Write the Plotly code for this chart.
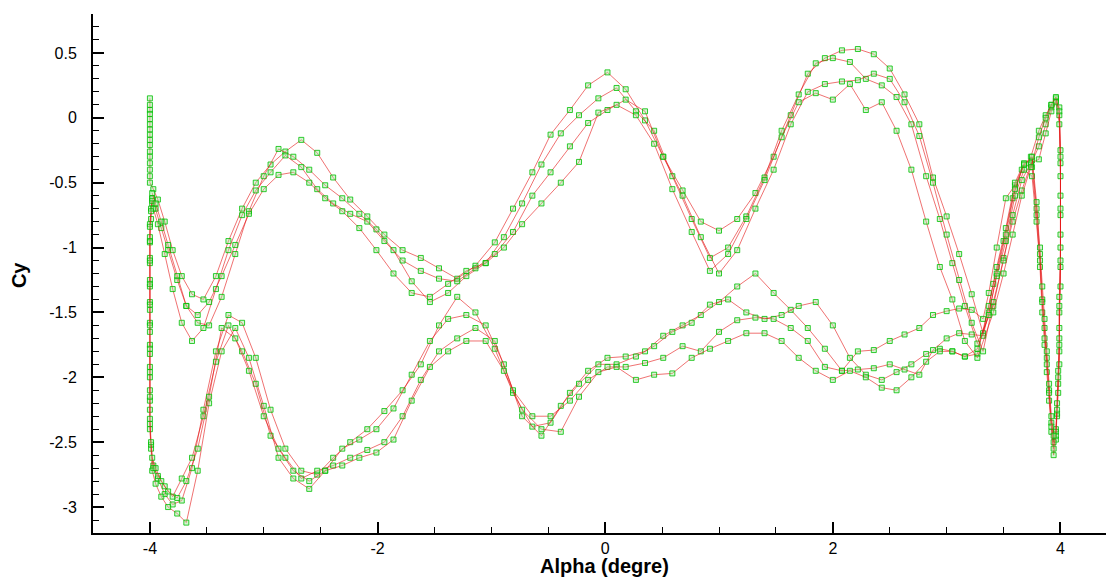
import plotly.graph_objects as go

# ---------------- data ----------------
UA = [-3.97, -3.93, -3.87, -3.80, -3.72, -3.63, -3.53, -3.42, -3.31, -3.19, -3.07, -2.94, -2.81, -2.67,
      -2.53, -2.39, -2.24, -2.09, -1.94, -1.78, -1.62, -1.46, -1.30, -1.14, -0.97, -0.81, -0.64, -0.48,
      -0.31, -0.15, 0.02, 0.18, 0.35, 0.51, 0.68, 0.84, 1.00, 1.16, 1.32, 1.48, 1.63, 1.78, 1.93, 2.08,
      2.22, 2.36, 2.50, 2.63, 2.76, 2.88, 3.00, 3.11, 3.22, 3.32]
UB = [-3.98, -3.95, -3.90, -3.84, -3.76, -3.68, -3.58, -3.48, -3.37, -3.25, -3.13, -3.00, -2.87, -2.74,
      -2.60, -2.46, -2.31, -2.16, -2.01, -1.86, -1.70, -1.54, -1.38, -1.22, -1.05, -0.89, -0.73, -0.56,
      -0.39, -0.23, -0.06, 0.10, 0.27, 0.43, 0.59, 0.76, 0.92, 1.08, 1.24, 1.40, 1.55, 1.70, 1.85, 2.00,
      2.15, 2.29, 2.43, 2.56, 2.69, 2.82, 2.94, 3.05, 3.16, 3.27]

# upper branches (alpha increasing)
up1_cy = [-0.55, -0.63, -0.80, -1.02, -1.22, -1.36, -1.40, -1.22, -0.95, -0.70, -0.50, -0.36, -0.26, -0.17,
          -0.27, -0.46, -0.63, -0.76, -0.90, -1.02, -1.08, -1.16, -1.24, -1.14, -0.96, -0.70, -0.42, -0.13,
          0.06, 0.25, 0.35, 0.22, -0.02, -0.30, -0.56, -0.80, -0.87, -0.78, -0.58, -0.30, 0.02, 0.34, 0.46, 0.52,
          0.53, 0.49, 0.38, 0.18, -0.05, -0.46, -0.76, -1.05, -1.36, -1.66]
up2_cy = [-0.62, -0.70, -0.85, -1.02, -1.25, -1.45, -1.58, -1.60, -1.38, -1.05, -0.72, -0.45, -0.24, -0.30,
          -0.40, -0.52, -0.62, -0.74, -0.86, -1.02, -1.26, -1.42, -1.35, -1.22, -1.12, -0.92, -0.66, -0.36,
          -0.12, 0.02, 0.15, 0.23, 0.05, -0.10, -0.45, -0.78, -1.08, -1.00, -0.76, -0.46, -0.10, 0.18, 0.42, 0.46,
          0.43, 0.30, 0.25, 0.16, -0.05, -0.45, -0.78, -1.12, -1.45, -1.74]
up3_cy = [-0.70, -0.82, -1.05, -1.32, -1.58, -1.72, -1.62, -1.32, -1.02, -0.75, -0.56, -0.42, -0.29, -0.38,
          -0.55, -0.66, -0.74, -0.80, -0.95, -1.10, -1.18, -1.24, -1.26, -1.16, -1.05, -0.88, -0.60, -0.42,
          -0.22, -0.04, 0.06, 0.14, 0.05, -0.30, -0.60, -0.92, -1.20, -1.02, -0.70, -0.40, -0.05, 0.20, 0.26, 0.28,
          0.29, 0.34, 0.30, 0.12, -0.14, -0.50, -0.90, -1.25, -1.58, -1.80]
up4_cy = [-0.58, -0.66, -0.80, -0.98, -1.22, -1.45, -1.52, -1.42, -1.22, -0.98, -0.74, -0.55, -0.44, -0.42,
          -0.50, -0.62, -0.72, -0.85, -1.02, -1.20, -1.35, -1.38, -1.28, -1.18, -1.12, -1.00, -0.82, -0.66,
          -0.50, -0.34, 0.04, 0.10, 0.02, -0.20, -0.55, -0.88, -1.18, -1.05, -0.78, -0.48, -0.15, 0.12, 0.19, 0.14,
          0.26, 0.06, 0.12, -0.10, -0.40, -0.80, -1.15, -1.40, -1.72, -1.85]

# lower branches (listed with alpha increasing, travelled with alpha decreasing)
lo1_cy = [-2.68, -2.78, -2.90, -2.98, -2.95, -2.70, -2.25, -1.80, -1.52, -1.58, -1.85, -2.25, -2.55, -2.72,
          -2.75, -2.62, -2.50, -2.40, -2.26, -2.10, -1.90, -1.60, -1.38, -1.50, -1.78, -2.12, -2.38, -2.35,
          -2.12, -1.95, -1.85, -1.84, -1.80, -1.68, -1.60, -1.52, -1.42, -1.30, -1.20, -1.35, -1.48, -1.62, -1.78, -1.95,
          -1.80, -1.79, -1.72, -1.67, -1.62, -1.52, -1.49, -1.47, -1.48, -1.55]
lo2_cy = [-2.72, -2.82, -2.92, -3.00, -3.05, -3.12, -2.72, -2.20, -1.80, -1.62, -1.85, -2.22, -2.62, -2.78,
          -2.86, -2.72, -2.55, -2.48, -2.40, -2.24, -1.98, -1.72, -1.55, -1.52, -1.60, -1.90, -2.30, -2.45,
          -2.22, -2.05, -1.90, -1.90, -1.84, -1.76, -1.65, -1.58, -1.44, -1.40, -1.50, -1.55, -1.52, -1.45, -1.42, -1.60,
          -1.85, -1.98, -2.02, -1.96, -1.90, -1.82, -1.78, -1.80, -1.84, -1.82]
lo3_cy = [-2.70, -2.76, -2.84, -2.92, -2.78, -2.62, -2.30, -1.88, -1.60, -1.80, -2.05, -2.45, -2.62, -2.78,
          -2.72, -2.68, -2.62, -2.56, -2.50, -2.30, -2.02, -1.80, -1.70, -1.62, -1.72, -2.10, -2.30, -2.30,
          -2.18, -2.02, -1.92, -1.92, -1.89, -1.85, -1.76, -1.80, -1.65, -1.56, -1.54, -1.55, -1.62, -1.72, -1.92, -1.95,
          -1.94, -1.93, -1.90, -1.94, -1.98, -1.79, -1.70, -1.66, -1.67, -1.68]
lo4_cy = [-2.62, -2.70, -2.80, -2.88, -2.93, -2.80, -2.55, -2.15, -1.62, -1.70, -1.95, -2.30, -2.55, -2.72,
          -2.80, -2.72, -2.68, -2.62, -2.58, -2.48, -2.18, -1.92, -1.80, -1.72, -1.72, -1.95, -2.25, -2.40,
          -2.42, -2.15, -1.96, -1.92, -2.02, -1.98, -1.97, -1.85, -1.78, -1.72, -1.66, -1.66, -1.72, -1.85, -1.95, -2.02,
          -1.95, -2.00, -2.08, -2.10, -2.00, -1.88, -1.80, -1.80, -1.84, -1.78]

# turn at alpha = 4 (rise, stall spike, recovery) for each cycle
r_alpha = [3.41, 3.50, 3.58, 3.66, 3.74, 3.81, 3.87, 3.92, 3.96,
           3.99, 4.00, 4.00, 4.00, 3.99, 3.99, 3.98, 3.97, 3.96,
           3.94, 3.92, 3.90, 3.88, 3.86, 3.84, 3.82, 3.79, 3.75,
           3.68, 3.60, 3.52, 3.44, 3.37]
r1_cy = [-1.28, -0.95, -0.62, -0.40, -0.30, -0.10, 0.02, 0.10, 0.15,
         0.02, -0.35, -0.75, -1.15, -1.50, -1.80, -2.05, -2.30, -2.48,
         -2.60, -2.42, -2.18, -1.96, -1.75, -1.50, -1.15, -0.75, -0.38,
         -0.36, -0.52, -0.62, -1.00, -1.35]
r2_cy = [-1.45, -1.08, -0.80, -0.56, -0.36, -0.22, -0.05, 0.08, 0.13,
         -0.05, -0.45, -0.90, -1.30, -1.62, -1.90, -2.12, -2.28, -2.40,
         -2.50, -2.35, -2.10, -1.85, -1.62, -1.40, -1.05, -0.70, -0.33,
         -0.35, -0.50, -0.85, -1.15, -1.45]
r3_cy = [-1.42, -1.10, -0.75, -0.48, -0.35, -0.32, -0.12, 0.05, 0.12,
         0.08, -0.25, -0.60, -1.00, -1.38, -1.70, -1.95, -2.20, -2.42,
         -2.55, -2.38, -2.12, -1.90, -1.70, -1.42, -1.10, -0.80, -0.45,
         -0.40, -0.60, -0.95, -1.22, -1.50]
r4_cy = [-1.50, -1.20, -0.90, -0.60, -0.38, -0.15, 0.00, 0.10, 0.16,
         0.05, -0.30, -0.70, -1.10, -1.45, -1.75, -2.00, -2.25, -2.45,
         -2.45, -2.30, -2.05, -1.80, -1.55, -1.30, -1.00, -0.65, -0.30,
         -0.36, -0.55, -0.90, -1.20, -1.52]

# turn at alpha = -4 (recovery from the lower to the upper branch)
l_alpha = [-3.99, -4.00, -4.00, -4.00, -4.00, -4.00, -4.00, -4.00, -4.00, -4.00, -4.00, -3.99, -3.98]
l1_cy = [-2.55, -2.40, -2.25, -2.10, -1.92, -1.75, -1.58, -1.42, -1.25, -1.08, -0.92, -0.78, -0.66]
l2_cy = [-2.52, -2.36, -2.18, -2.00, -1.82, -1.65, -1.48, -1.30, -1.12, -0.96, -0.82, -0.70, -0.62]
l3_cy = [-2.50, -2.32, -2.15, -1.96, -1.78, -1.60, -1.44, -1.28, -1.10, -0.95, -0.84, -0.72, -0.64]

# start-up transient at alpha = -4
s_alpha = [-4.00] * 16
s_cy = [0.15, 0.10, 0.06, 0.03, -0.01, -0.05, -0.09, -0.13, -0.17, -0.21, -0.26, -0.30, -0.35, -0.40, -0.45, -0.50]

x_ticks = [-4, -2, 0, 2, 4]
x_labels = ["-4", "-2", "0", "2", "4"]
y_ticks = [0.5, 0, -0.5, -1, -1.5, -2, -2.5, -3]
y_labels = ["0.5", "0", "-0.5", "-1", "-1.5", "-2", "-2.5", "-3"]

# ---------------- assemble time history ----------------
cycles = [
    (UA, up1_cy, r1_cy, lo1_cy, l1_cy),
    (UB, up2_cy, r2_cy, lo2_cy, l2_cy),
    (UA, up3_cy, r3_cy, lo3_cy, l3_cy),
    (UB, up4_cy, r4_cy, lo4_cy, None),
]

fig = go.Figure()
first = True
for grid, up, r, lo, lturn in cycles:
    xs, ys = [], []
    if first:
        xs += s_alpha
        ys += s_cy
        first = False
    xs += grid
    ys += up
    xs += r_alpha
    ys += r
    xs += grid[::-1]
    ys += lo[::-1]
    if lturn is not None:
        xs += l_alpha
        ys += lturn
    fig.add_trace(go.Scatter(
        x=xs, y=ys, mode="lines+markers",
        line=dict(color="rgba(228,20,20,0.6)", width=1),
        marker=dict(symbol="square", size=5, color="rgba(150,235,150,0.4)",
                    line=dict(color="rgba(0,190,0,0.8)", width=1)),
        showlegend=False, hoverinfo="skip"))

axis_font = dict(family="Liberation Sans, Arial, sans-serif", size=16, color="black")

fig.update_layout(
    width=1108, height=579,
    margin=dict(l=93, r=2, t=14, b=46, autoexpand=False),
    paper_bgcolor="white", plot_bgcolor="white",
    xaxis=dict(range=[-4.5, 4.4], tickmode="array", tickvals=x_ticks, ticktext=x_labels,
               showline=True, linecolor="black", linewidth=2, mirror=False,
               ticks="inside", ticklen=11, tickwidth=2, tickcolor="black",
               minor=dict(ticks="inside", tickmode="linear", tick0=0, dtick=0.5,
                          ticklen=6, tickwidth=1, tickcolor="black"),
               showgrid=False, zeroline=False, tickfont=axis_font, ticklabelstandoff=0),
    yaxis=dict(range=[-3.2, 0.8], tickmode="array", tickvals=y_ticks, ticktext=y_labels,
               showline=True, linecolor="black", linewidth=2, mirror=False,
               ticks="inside", ticklen=11, tickwidth=2, tickcolor="black",
               minor=dict(ticks="inside", tickmode="linear", tick0=0, dtick=0.1,
                          ticklen=6, tickwidth=1, tickcolor="black"),
               showgrid=False, zeroline=False, tickfont=axis_font, ticklabelstandoff=11),
    annotations=[
        dict(text="<b>Cy</b>", xref="paper", yref="paper", x=-0.073, y=0.497,
             textangle=-90, showarrow=False, xanchor="center", yanchor="middle",
             font=dict(family="Liberation Sans, Arial, sans-serif", size=20, color="black")),
        dict(text="<b>Alpha (degre)</b>", xref="paper", yref="paper", x=0.5054, y=-0.063,
             showarrow=False, xanchor="center", yanchor="middle",
             font=dict(family="Liberation Sans, Arial, sans-serif", size=20, color="black")),
    ],
)

fig.write_html("out.html", config={"displayModeBar": False},
               post_script="document.body.style.margin='0px';document.body.style.overflow='hidden';")
